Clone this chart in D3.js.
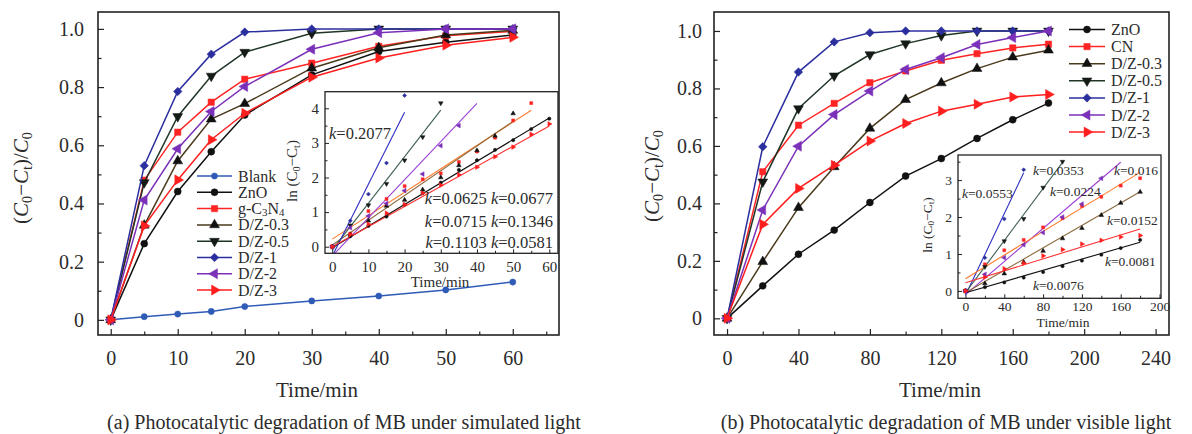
<!DOCTYPE html>
<html>
<head>
<meta charset="utf-8">
<script src="https://cdn.jsdelivr.net/npm/d3@7"></script>
<style>
  body { margin: 0; background: #fff; }
  svg { display: block; }
  text { font-family: "Liberation Serif", "Times New Roman", serif; fill: #2b2b2b; }
</style>
</head>
<body>
<svg id="fig" width="1192" height="434"></svg>
<script>
// ---------------- panel (a): degradation under simulated light ----------------
const timeA = [0, 5, 10, 15, 20, 30, 40, 50, 60];
const blankA = [0, 0.011, 0.020, 0.029, 0.046, 0.065, 0.082, 0.103, 0.130];
const znoA   = [0, 0.262, 0.441, 0.578, 0.704, 0.842, 0.922, 0.954, 0.979];
const gcnA   = [0, 0.480, 0.645, 0.748, 0.827, 0.882, 0.940, 0.976, 0.992];
const dz03A  = [0, 0.325, 0.546, 0.690, 0.743, 0.865, 0.935, 0.979, 0.995];
const dz05A  = [0, 0.472, 0.699, 0.838, 0.920, 0.985, 1.000, 1.000, 1.000];
const dz1A   = [0, 0.530, 0.785, 0.913, 0.989, 1.000, 1.000, 1.000, 1.000];
const dz2A   = [0, 0.412, 0.588, 0.716, 0.802, 0.930, 0.987, 1.000, 1.000];
const dz3A   = [0, 0.323, 0.481, 0.619, 0.710, 0.834, 0.900, 0.944, 0.971];
const xTicksA = [0, 10, 20, 30, 40, 50, 60];
const yTicks = [0, 0.2, 0.4, 0.6, 0.8, 1.0];

// first-order kinetics inset (a)
const lnTimeA = [0, 5, 10, 15, 20, 25, 30, 35, 40, 45, 50, 55, 60];
const lnZnoA  = [0, 0.30, 0.60, 0.87, 1.22, 1.55, 1.85, 2.22, 2.50, 2.80, 3.08, 3.40, 3.70];
const lnGcnA  = [0, 0.38, 1.03, 1.38, 1.75, 1.95, 2.12, 2.45, 2.75, 3.15, 3.65, 4.15];
const lnDz03A = [0, 0.35, 0.75, 1.18, 1.35, 1.65, 2.00, 2.35, 2.78, 3.20, 3.85];
const lnDz05A = [0, 0.62, 1.20, 1.82, 2.50, 3.17, 4.15];
const lnDz1A  = [0, 0.75, 1.52, 2.42, 4.37];
const lnDz2A  = [0, 0.55, 0.89, 1.25, 1.62, 2.10, 2.92, 3.50];
const lnDz3A  = [0, 0.35, 0.65, 0.97, 1.22, 1.55, 1.78, 2.08, 2.30, 2.60, 2.88, 3.25, 3.55];
const fitNamesA = ["ZnO", "g-C3N4", "D/Z-0.3", "D/Z-0.5", "D/Z-1", "D/Z-2", "D/Z-3"];
const fitKA     = [0.0625, 0.0677, 0.0715, 0.1346, 0.2077, 0.1103, 0.0581];
const fitB0A    = [-0.03, 0.22, 0.05, -0.09, -0.27, -0.27, 0.0];
const fitT0A    = [0, 0, 0, 0, 0.4, 0.7, 0];
const fitT1A    = [60, 55, 50, 30, 20, 40, 60];
const lnXTicksA = [0, 10, 20, 30, 40, 50, 60];
const lnYTicksA = [0, 1, 2, 3, 4];

// ---------------- panel (b): degradation under visible light ----------------
const timeB = [0, 20, 40, 60, 80, 100, 120, 140, 160, 180];
const znoB  = [0, 0.113, 0.223, 0.307, 0.403, 0.495, 0.556, 0.626, 0.691, 0.749];
const cnB   = [0, 0.510, 0.672, 0.748, 0.820, 0.861, 0.898, 0.921, 0.941, 0.954];
const dz03B = [0, 0.197, 0.385, 0.527, 0.661, 0.761, 0.819, 0.869, 0.909, 0.933];
const dz05B = [0, 0.475, 0.730, 0.844, 0.918, 0.956, 0.984, 1.000, 1.000, 1.000];
const dz1B  = [0, 0.597, 0.857, 0.962, 0.994, 1.000, 1.000, 1.000, 1.000, 1.000];
const dz2B  = [0, 0.377, 0.599, 0.709, 0.791, 0.866, 0.907, 0.953, 0.977, 1.000];
const dz3B  = [0, 0.327, 0.452, 0.533, 0.617, 0.678, 0.721, 0.745, 0.770, 0.779];
const xTicksB = [0, 40, 80, 120, 160, 200, 240];

// first-order kinetics inset (b)
const lnTimeB = [0, 20, 40, 60, 80, 100, 120, 140, 160, 180];
const lnZnoB  = [0, 0.10, 0.23, 0.36, 0.51, 0.67, 0.82, 0.98, 1.16, 1.38];
const lnCnB   = [0, 0.72, 1.10, 1.38, 1.72, 1.97, 2.30, 2.55, 2.85, 3.05];
const lnDz03B = [0, 0.20, 0.47, 0.78, 1.08, 1.42, 1.70, 2.05, 2.38, 2.68];
const lnDz05B = [0, 0.65, 1.35, 1.95, 2.80, 3.50];
const lnDz1B  = [0, 0.90, 1.95, 3.28];
const lnDz2B  = [0, 0.45, 0.90, 1.25, 1.58, 2.00, 2.35, 3.05];
const lnDz3B  = [0, 0.37, 0.60, 0.75, 0.95, 1.12, 1.27, 1.37, 1.46, 1.50];
const fitNamesB = ["D/Z-1", "D/Z-0.5", "D/Z-2", "CN", "D/Z-0.3", "D/Z-3", "ZnO"];
const fitKB     = [0.0553, 0.0353, 0.0224, 0.016, 0.0152, 0.0081, 0.0076];
const fitB0B    = [-0.12, -0.05, -0.10, 0.33, -0.05, 0.22, -0.05];
const fitT0B    = [0, 0, 0, 0, 0, 0, 0];
const fitT1B    = [60, 100, 160, 180, 180, 180, 180];
const lnXTicksB = [0, 40, 80, 120, 160, 200];
const lnYTicksB = [0, 1, 2, 3];

// ---------------- styling ----------------
const look = {
  "Blank":   { line: "#2f5bb7", fill: "#2f5bb7", sym: "circle", size: 30 },
  "ZnO":     { line: "#111111", fill: "#111111", sym: "circle", size: 38 },
  "g-C3N4":  { line: "#ff2424", fill: "#ff2424", sym: "square", size: 40 },
  "CN":      { line: "#ff2424", fill: "#ff2424", sym: "square", size: 40 },
  "D/Z-0.3": { line: "#4a3a1c", fill: "#111111", sym: "up",     size: 42 },
  "D/Z-0.5": { line: "#1f3526", fill: "#141a16", sym: "down",   size: 42 },
  "D/Z-1":   { line: "#2b2f9e", fill: "#2b2f9e", sym: "diamond",size: 36 },
  "D/Z-2":   { line: "#7a30b8", fill: "#7a30b8", sym: "left",   size: 44 },
  "D/Z-3":   { line: "#ff1e1e", fill: "#ff1e1e", sym: "right",  size: 44 }
};
const insetLine = {
  "ZnO": "#111111", "g-C3N4": "#ff7a2a", "CN": "#ff7a2a", "D/Z-0.3": "#8b6a3c",
  "D/Z-0.5": "#3d5e50", "D/Z-1": "#2d2dc0", "D/Z-2": "#9b3fd6", "D/Z-3": "#ff3030"
};
const FONT = '"Liberation Serif", "Times New Roman", serif';
const INK = "#2b2b2b";

const svg = d3.select("#fig");

function symbolPath(kind, size) {
  const type = (kind === "circle") ? d3.symbolCircle
             : (kind === "square" || kind === "diamond") ? d3.symbolSquare
             : d3.symbolTriangle;
  const rot = { down: 180, left: -90, right: 90, diamond: 45 }[kind] || 0;
  return { d: d3.symbol(type, size)(), rot };
}

function marker(g, name, cx, cy, scale) {
  const s = look[name];
  const p = symbolPath(s.sym, s.size * (scale || 1));
  g.append("path").attr("d", p.d)
    .attr("transform", `translate(${cx},${cy}) rotate(${p.rot})`)
    .attr("fill", s.fill).attr("stroke", s.fill).attr("stroke-width", 0.5);
}

// rich text: parts = [[text, flags]] where flags may contain 'i' (italic) and 's' (subscript)
function richText(sel, parts, drop) {
  const d = drop || 0.26;
  let sub = false;
  parts.forEach(([t, f]) => {
    f = f || "";
    const ts = sel.append("tspan").text(t);
    if (f.includes("i")) ts.attr("font-style", "italic");
    if (f.includes("s")) {
      ts.attr("font-size", "0.68em");
      if (!sub) ts.attr("dy", d + "em");
      sub = true;
    } else if (sub) {
      ts.attr("dy", (-d * 0.68).toFixed(3) + "em");
      sub = false;
    }
  });
  return sel;
}

function axes(g, x, y, o) {
  const bottom = y.range()[0];
  const left = x.range()[0];
  const fmt = o.fmtY || (d => d);
  // minor ticks
  g.append("g").attr("transform", `translate(0,${bottom})`)
    .call(d3.axisBottom(x).tickValues(o.xMinor).tickSize(-o.minor).tickFormat(""))
    .call(a => a.select(".domain").remove());
  g.append("g").attr("transform", `translate(${left},0)`)
    .call(d3.axisLeft(y).tickValues(o.yMinor).tickSize(-o.minor).tickFormat(""))
    .call(a => a.select(".domain").remove());
  // major ticks with labels
  g.append("g").attr("transform", `translate(0,${bottom})`)
    .call(d3.axisBottom(x).tickValues(o.xTicks).tickSize(-o.major).tickPadding(o.xPad).tickFormat(d => d))
    .call(a => a.select(".domain").remove())
    .call(a => a.selectAll("text").attr("font-family", FONT).attr("font-size", o.fs).attr("fill", INK));
  g.append("g").attr("transform", `translate(${left},0)`)
    .call(d3.axisLeft(y).tickValues(o.yTicks).tickSize(-o.major).tickPadding(o.yPad).tickFormat(fmt))
    .call(a => a.select(".domain").remove())
    .call(a => a.selectAll("text").attr("font-family", FONT).attr("font-size", o.fs).attr("fill", INK));
  g.selectAll(".tick line").attr("stroke", "#222").attr("stroke-width", o.tickW || 1.2);
}

function frame(g, x, y, w) {
  const [x0, x1] = x.range(), [y1, y0] = y.range();
  g.append("rect").attr("x", x0).attr("y", y0).attr("width", x1 - x0).attr("height", y1 - y0)
    .attr("fill", "none").attr("stroke", "#222").attr("stroke-width", w);
}

function mainPanel(o) {
  const g = svg.append("g");
  const x = d3.scaleLinear().domain(o.xDom).range(o.xRange);
  const y = d3.scaleLinear().domain(o.yDom).range(o.yRange);
  axes(g, x, y, {
    xTicks: o.xTicks, xMinor: o.xMinor, yTicks: yTicks, yMinor: d3.range(0.1, 1.01, 0.2),
    major: 6, minor: 3.5, fs: 20, xPad: 15.5, yPad: o.yPad,
    fmtY: d => d === 0 ? "0" : d.toFixed(1)
  });
  const line = d3.line().x(d => x(d[0])).y(d => y(d[1]));
  o.series.forEach(([name, vals]) => {
    const pts = o.time.map((t, i) => [t, vals[i]]);
    g.append("path").attr("d", line(pts)).attr("fill", "none")
      .attr("stroke", look[name].line).attr("stroke-width", 1.5);
    pts.forEach(p => marker(g, name, x(p[0]), y(p[1])));
  });
  frame(g, x, y, 1.6);
  // axis titles
  g.append("text").attr("x", o.xTitle[0]).attr("y", o.xTitle[1]).attr("text-anchor", "middle")
    .attr("font-size", 21).text("Time/min");
  const yt = g.append("text").attr("text-anchor", "middle").attr("font-size", 21)
    .attr("transform", `translate(${o.yTitle[0]},${o.yTitle[1]}) rotate(-90)`);
  richText(yt, [["("], ["C", "i"], ["0", "s"], ["\u2212"], ["C", "i"], ["t", "s"], [")/"], ["C", "i"], ["0", "s"]]);
  g.append("text").attr("x", o.caption[0]).attr("y", o.caption[1]).attr("text-anchor", "middle")
    .attr("font-size", 20).text(o.captionText);
  // legend
  o.series.forEach(([name], i) => {
    const ly = o.legend.y0 + i * o.legend.dy;
    g.append("line").attr("x1", o.legend.x0).attr("x2", o.legend.x1).attr("y1", ly).attr("y2", ly)
      .attr("stroke", look[name].line).attr("stroke-width", 1.5);
    marker(g, name, (o.legend.x0 + o.legend.x1) / 2, ly);
    const t = g.append("text").attr("x", o.legend.x1 + 6).attr("y", ly + 5.5).attr("font-size", 16);
    if (name === "g-C3N4") richText(t, [["g-C"], ["3", "s"], ["N"], ["4", "s"]], 0.16);
    else t.text(name);
  });
  return g;
}

function insetPanel(o) {
  const g = svg.append("g");
  const x = d3.scaleLinear().domain(o.xDom).range(o.xRange);
  const y = d3.scaleLinear().domain(o.yDom).range(o.yRange);
  g.append("rect").attr("x", o.xRange[0]).attr("y", o.yRange[1])
    .attr("width", o.xRange[1] - o.xRange[0]).attr("height", o.yRange[0] - o.yRange[1]).attr("fill", "#fff");
  axes(g, x, y, {
    xTicks: o.xTicks, xMinor: o.xMinor, yTicks: o.yTicks, yMinor: o.yMinor,
    major: 4, minor: 2.5, fs: o.fs, xPad: o.xPad, yPad: o.yPad, tickW: 1
  });
  // fitted first-order lines
  o.fitNames.forEach((name, i) => {
    const k = o.fitK[i], b = o.fitB[i];
    g.append("line")
      .attr("x1", x(o.fitT0[i])).attr("y1", y(k * o.fitT0[i] + b))
      .attr("x2", x(o.fitT1[i])).attr("y2", y(k * o.fitT1[i] + b))
      .attr("stroke", insetLine[name]).attr("stroke-width", 1.1);
  });
  // measured points
  o.points.forEach(([name, vals]) => {
    vals.forEach((v, i) => marker(g, name, x(o.time[i]), y(v), 0.22));
  });
  frame(g, x, y, 1.3);
  g.append("text").attr("x", o.xTitle[0]).attr("y", o.xTitle[1]).attr("text-anchor", "middle")
    .attr("font-size", o.fs).text("Time/min");
  const yt = g.append("text").attr("text-anchor", "middle").attr("font-size", o.fs)
    .attr("transform", `translate(${o.yTitle[0]},${o.yTitle[1]}) rotate(-90)`);
  richText(yt, [["ln ("], ["C"], ["0", "s"], ["\u2212"], ["C"], ["t", "s"], [")"]]);
  // rate constants
  o.kLabels.forEach(lab => {
    const t = g.append("text").attr("x", lab.x).attr("y", lab.y).attr("font-size", o.kfs)
      .attr("text-anchor", lab.anchor || "start");
    lab.ks.forEach((k, j) => {
      t.append("tspan").attr("font-style", "italic").text((j ? " " : "") + "k");
      t.append("tspan").text("=" + k);
    });
  });
  return g;
}

// ---------- draw panel (a) ----------
mainPanel({
  xDom: [-1.9, 66.9], xRange: [98, 559], yDom: [-0.052, 1.058], yRange: [335, 12],
  xTicks: xTicksA, xMinor: d3.range(5, 66, 10), yPad: 14,
  time: timeA,
  series: [["Blank", blankA], ["ZnO", znoA], ["g-C3N4", gcnA], ["D/Z-0.3", dz03A],
           ["D/Z-0.5", dz05A], ["D/Z-1", dz1A], ["D/Z-2", dz2A], ["D/Z-3", dz3A]],
  xTitle: [317, 397], yTitle: [28, 178], caption: [344, 429],
  captionText: "(a) Photocatalytic degradation of MB under simulated light",
  legend: { x0: 197, x1: 232, y0: 176, dy: 16.3 }
});
const kOf = name => fitKA[fitNamesA.indexOf(name)];
insetPanel({
  xDom: [-2, 62.4], xRange: [325, 558], yDom: [-0.19, 4.48], yRange: [253.3, 91.7],
  xTicks: lnXTicksA, xMinor: d3.range(5, 61, 10), yTicks: lnYTicksA, yMinor: [0.5, 1.5, 2.5, 3.5],
  fs: 15, xPad: 8, yPad: 6,
  time: lnTimeA,
  points: [["ZnO", lnZnoA], ["g-C3N4", lnGcnA], ["D/Z-0.3", lnDz03A], ["D/Z-0.5", lnDz05A],
           ["D/Z-1", lnDz1A], ["D/Z-2", lnDz2A], ["D/Z-3", lnDz3A]],
  fitNames: fitNamesA, fitK: fitKA, fitB: fitB0A, fitT0: fitT0A, fitT1: fitT1A,
  xTitle: [440, 287], yTitle: [297, 171], kfs: 16.5,
  kLabels: [
    { x: 329, y: 139, ks: [kOf("D/Z-1")] },
    { x: 553, y: 204, anchor: "end", ks: [kOf("ZnO"), kOf("g-C3N4")] },
    { x: 553, y: 226.5, anchor: "end", ks: [kOf("D/Z-0.3"), kOf("D/Z-0.5")] },
    { x: 553, y: 248, anchor: "end", ks: [kOf("D/Z-2"), kOf("D/Z-3")] }
  ]
});

// ---------- draw panel (b) ----------
mainPanel({
  xDom: [-7.3, 247.5], xRange: [714, 1169], yDom: [-0.058, 1.066], yRange: [335, 12],
  xTicks: xTicksB, xMinor: d3.range(20, 241, 40), yPad: 12,
  time: timeB,
  series: [["ZnO", znoB], ["CN", cnB], ["D/Z-0.3", dz03B], ["D/Z-0.5", dz05B],
           ["D/Z-1", dz1B], ["D/Z-2", dz2B], ["D/Z-3", dz3B]],
  xTitle: [940, 397], yTitle: [659, 176], caption: [946, 429],
  captionText: "(b) Photocatalytic degradation of MB under visible light",
  legend: { x0: 1069, x1: 1105, y0: 29.5, dy: 17.1 }
});
const kOfB = name => fitKB[fitNamesB.indexOf(name)];
insetPanel({
  xDom: [-7.7, 201.5], xRange: [958, 1161], yDom: [-0.2, 3.68], yRange: [298.3, 155],
  xTicks: lnXTicksB, xMinor: d3.range(20, 181, 40), yTicks: lnYTicksB, yMinor: [0.5, 1.5, 2.5, 3.5],
  fs: 13.5, xPad: 3.5, yPad: 6,
  time: lnTimeB,
  points: [["ZnO", lnZnoB], ["CN", lnCnB], ["D/Z-0.3", lnDz03B], ["D/Z-0.5", lnDz05B],
           ["D/Z-1", lnDz1B], ["D/Z-2", lnDz2B], ["D/Z-3", lnDz3B]],
  fitNames: fitNamesB, fitK: fitKB, fitB: fitB0B, fitT0: fitT0B, fitT1: fitT1B,
  xTitle: [1063, 327], yTitle: [932, 225], kfs: 13.5,
  kLabels: [
    { x: 962, y: 198, ks: [kOfB("D/Z-1")] },
    { x: 1033, y: 175, ks: [kOfB("D/Z-0.5")] },
    { x: 1050, y: 196, ks: [kOfB("D/Z-2")] },
    { x: 1114, y: 175, ks: [kOfB("CN")] },
    { x: 1107, y: 225, ks: [kOfB("D/Z-0.3")] },
    { x: 1105, y: 266, ks: [kOfB("D/Z-3")] },
    { x: 1033, y: 290, ks: [kOfB("ZnO")] }
  ]
});
</script>
</body>
</html>
